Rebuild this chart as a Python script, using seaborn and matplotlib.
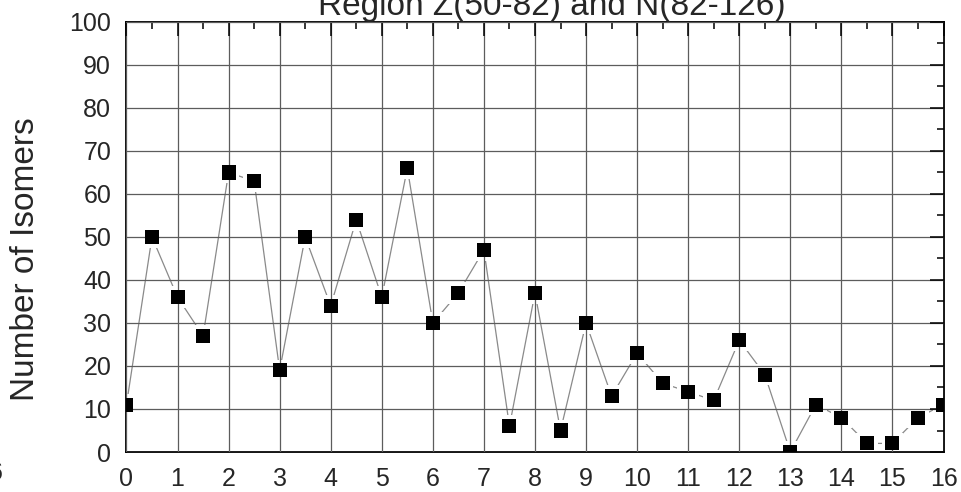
import matplotlib
matplotlib.use("Agg")
import matplotlib.pyplot as plt
from matplotlib.ticker import MultipleLocator
import numpy as np
import pandas as pd
import seaborn as sns

# Number of isomers per half-unit bin
x_vals = [0, 0.5, 1, 1.5, 2, 2.5, 3, 3.5, 4, 4.5, 5, 5.5, 6, 6.5, 7, 7.5, 8,
          8.5, 9, 9.5, 10, 10.5, 11, 11.5, 12, 12.5, 13, 13.5, 14, 14.5, 15, 15.5, 16]
isomers = [11, 50, 36, 27, 65, 63, 19, 50, 34, 54, 36, 66, 30, 37, 47, 6, 37,
           5, 30, 13, 23, 16, 14, 12, 26, 18, 0, 11, 8, 2, 2, 8, 11]

x_ticks = list(range(0, 17))
y_ticks = list(range(0, 101, 10))
title_text = "Region Z(50-82) and N(82-126)"
y_label = "Number of Isomers"

df = pd.DataFrame({"x": x_vals, "n": isomers})

sns.set_style("white")
plt.rcParams["font.family"] = ["Liberation Sans", "DejaVu Sans"]

fig = plt.figure(figsize=(9.61, 4.92), dpi=100)
ax = fig.add_axes([0.1316, 0.0813, 0.8502, 0.8740])

# connecting line, white halos to open gaps, then the square markers
sns.lineplot(data=df, x="x", y="n", ax=ax, color="#8a8a8a", lw=0.9,
             zorder=1, sort=False)
sns.scatterplot(data=df, x="x", y="n", ax=ax, marker="s", s=240,
                color="white", edgecolor="none", linewidth=0, zorder=2)
sns.scatterplot(data=df, x="x", y="n", ax=ax, marker="s", s=102,
                color="black", edgecolor="none", linewidth=0, zorder=3)

ax.set_axisbelow(False)
ax.set_xlim(0, 16)
ax.set_ylim(0, 100)
ax.set_xticks(x_ticks)
ax.set_yticks(y_ticks)
ax.xaxis.set_minor_locator(MultipleLocator(0.5))
ax.yaxis.set_minor_locator(MultipleLocator(5))
ax.grid(True, which="major", color="#5c5c5c", lw=0.9)

ax.tick_params(which="both", direction="in", top=True, right=True,
               color="black", width=1.1)
ax.tick_params(which="major", length=10, labelsize=18)
ax.tick_params(which="minor", length=5)
ax.tick_params(axis="y", which="major", pad=11)
ax.tick_params(axis="x", which="major", pad=11)

for sp in ax.spines.values():
    sp.set_visible(True)
    sp.set_color("black")
    sp.set_linewidth(1.3)

ax.set_xlabel("")
ax.set_ylabel(y_label, fontsize=24)
ax.yaxis.set_label_coords(-0.105, 0.449)

ax.text(0.52, 1 + 7 / 430, title_text, transform=ax.transAxes,
        ha="center", va="baseline", fontsize=24)

# tick label of the neighbouring panel at the left edge
fig.text(-0.004, 0.025, "6", ha="center", va="baseline", fontsize=18)

fig.savefig("out.png", dpi=100)
